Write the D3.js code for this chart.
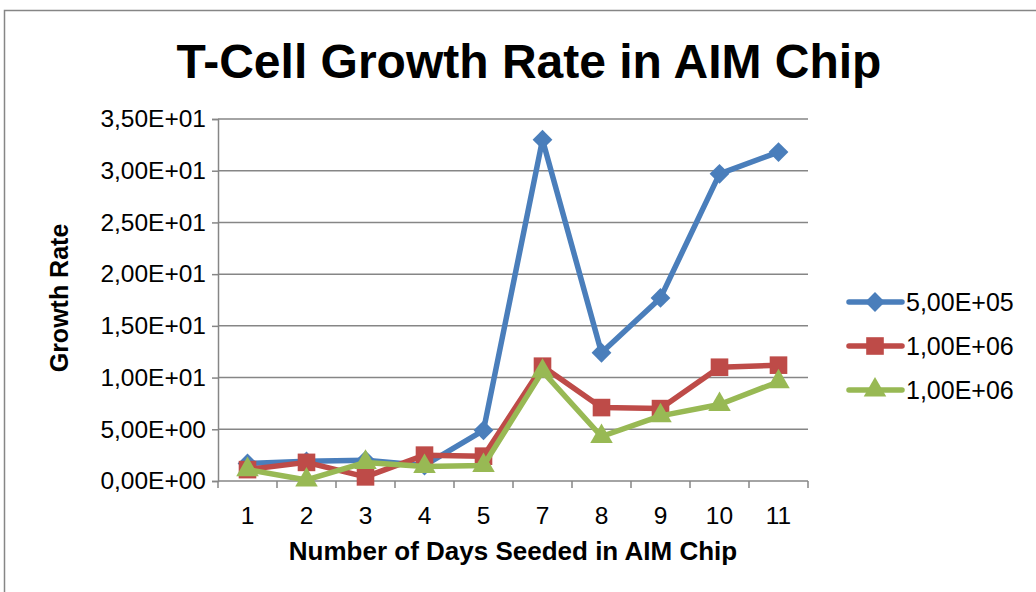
<!DOCTYPE html>
<html><head><meta charset="utf-8">
<script src="https://cdn.jsdelivr.net/npm/d3@7"></script>
<style>body{margin:0;background:#fff}svg{display:block;font-family:"Liberation Sans",Arial,sans-serif}</style>
</head><body>
<svg id="c" width="1036" height="592"></svg>
<script>
const categories = ["1","2","3","4","5","7","8","9","10","11"];
const seriesNames = ["5,00E+05","1,00E+06","1,00E+06"];
const blueValues = [1.7, 1.9, 2.0, 1.5, 4.9, 33.0, 12.4, 17.7, 29.7, 31.8];
const redValues = [1.1, 1.8, 0.4, 2.5, 2.4, 11.1, 7.1, 7.0, 11.0, 11.2];
const greenValues = [1.1, 0.1, 1.8, 1.4, 1.5, 10.6, 4.3, 6.3, 7.4, 9.6];
const yTicks = [0, 5, 10, 15, 20, 25, 30, 35];
const yTickLabels = ["0,00E+00","5,00E+00","1,00E+01","1,50E+01","2,00E+01","2,50E+01","3,00E+01","3,50E+01"];
const colors = ["#4A7EBB","#BE4B48","#98B954"];
const symbols = [d3.symbolDiamond2 || d3.symbolDiamond, d3.symbolSquare, d3.symbolTriangle];

const svg = d3.select("#c");
const L = 218, R = 808, T = 119, B = 481;
const grey = "#868686";

svg.append("rect").attr("x",4.5).attr("y",10.5).attr("width",1200).attr("height",800)
  .attr("fill","none").attr("stroke",grey).attr("stroke-width",1.5);

svg.append("text").attr("x",529).attr("y",78).attr("text-anchor","middle")
  .attr("font-size",48).attr("font-weight","bold").text("T-Cell Growth Rate in AIM Chip");

const x = d3.scaleBand().domain(categories).range([L,R]);
const y = d3.scaleLinear().domain([0,35]).range([B,T]);

// gridlines
svg.append("g").selectAll("line").data(yTicks.slice(1)).join("line")
  .attr("x1",L).attr("x2",R).attr("y1",d=>y(d)).attr("y2",d=>y(d))
  .attr("stroke",grey).attr("stroke-width",1.5);

// y axis
const yAxis = d3.axisLeft(y).tickValues(yTicks).tickFormat((d,i)=>yTickLabels[i]).tickSize(6).tickPadding(6);
const gy = svg.append("g").attr("transform",`translate(${L},0)`).call(yAxis);
gy.select(".domain").attr("stroke",grey).attr("stroke-width",1.5);
gy.selectAll(".tick line").attr("stroke",grey).attr("stroke-width",1.5);
gy.selectAll(".tick text").attr("font-size",24.5).attr("font-family","Liberation Sans, Arial, sans-serif").attr("fill","#000");

// x axis
const gx = svg.append("g").attr("transform",`translate(0,${B})`);
gx.append("line").attr("x1",L).attr("x2",R).attr("stroke",grey).attr("stroke-width",1.5);
const bounds = categories.map(c=>x(c)).concat([R]);
gx.selectAll("line.t").data(bounds).join("line").attr("class","t")
  .attr("x1",d=>d).attr("x2",d=>d).attr("y1",0).attr("y2",7).attr("stroke",grey).attr("stroke-width",1.5);
gx.selectAll("text").data(categories).join("text")
  .attr("x",d=>x(d)+x.bandwidth()/2).attr("y",43).attr("text-anchor","middle")
  .attr("font-size",24.5).text(d=>d);

svg.append("text").attr("x",513).attr("y",560).attr("text-anchor","middle")
  .attr("font-size",26).attr("font-weight","bold").text("Number of Days Seeded in AIM Chip");
svg.append("text").attr("transform","translate(68,298) rotate(-90)").attr("text-anchor","middle")
  .attr("font-size",25).attr("font-weight","bold").text("Growth Rate");

const allSeries = [blueValues, redValues, greenValues];
const line = d3.line().x((d,i)=>x(categories[i])+x.bandwidth()/2).y(d=>y(d));
const symSizes = [250, 310, 220];

allSeries.forEach((vals,s)=>{
  svg.append("path").datum(vals).attr("d",line).attr("fill","none")
    .attr("stroke",colors[s]).attr("stroke-width",5.5).attr("stroke-linejoin","round").attr("stroke-linecap","round");
  svg.append("g").selectAll("path").data(vals).join("path")
    .attr("transform",(d,i)=>`translate(${x(categories[i])+x.bandwidth()/2},${y(d)})`)
    .attr("d",d3.symbol().type(symbols[s]).size(symSizes[s])).attr("fill",colors[s]);
});

// legend
const lg = svg.append("g");
seriesNames.forEach((n,s)=>{
  const cy = 302 + s*44;
  lg.append("line").attr("x1",849).attr("x2",902).attr("y1",cy).attr("y2",cy)
    .attr("stroke",colors[s]).attr("stroke-width",5.5).attr("stroke-linecap","round");
  lg.append("path").attr("transform",`translate(875,${cy})`)
    .attr("d",d3.symbol().type(symbols[s]).size(symSizes[s])).attr("fill",colors[s]);
  lg.append("text").attr("x",906).attr("y",cy+9).attr("font-size",25).text(n);
});
</script>
</body></html>
